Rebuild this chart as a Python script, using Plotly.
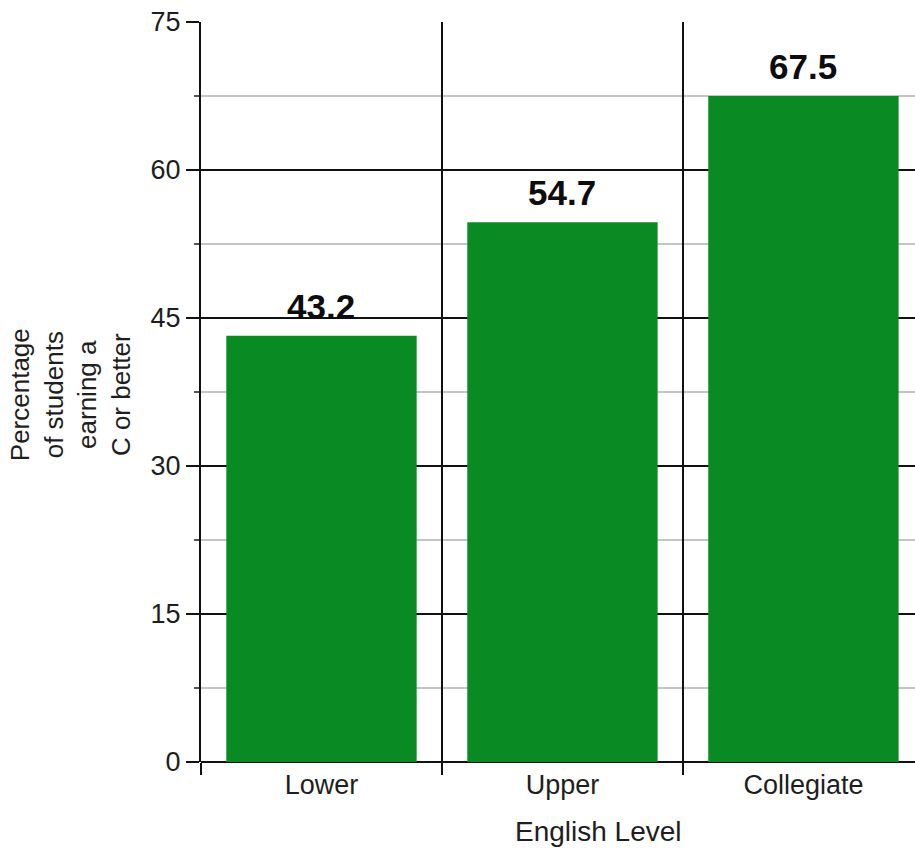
import plotly.graph_objects as go

# Share of students earning a C or better, by English level
levels = ["Lower", "Upper", "Collegiate"]
pct_c_or_better = [43.2, 54.7, 67.5]
y_ticks = [0, 15, 30, 45, 60, 75]

FONT = "Liberation Sans, Arial, sans-serif"
BAR_GREEN = "#0a8a23"
TEXT = "#1e1e1e"

fig = go.Figure(
    go.Bar(
        x=levels,
        y=pct_c_or_better,
        width=0.79,
        marker=dict(color=BAR_GREEN, line=dict(width=0)),
        hoverinfo="x+y",
    )
)

# Value labels above each bar
for lvl, v in zip(levels, pct_c_or_better):
    fig.add_annotation(
        x=lvl, y=v, xref="x", yref="y",
        text=f"<b>{v}</b>", showarrow=False,
        yanchor="bottom", yshift=8,
        font=dict(family=FONT, size=35, color="#0d0d0d"),
    )

# Y-axis title, four centred lines, rotated
fig.add_annotation(
    xref="paper", yref="paper", x=-0.1835, y=0.497,
    xanchor="center", yanchor="middle",
    text="Percentage<br>of students<br>earning a<br>C or better",
    textangle=-90, showarrow=False, align="center",
    font=dict(family=FONT, size=26, color=TEXT),
)

# X-axis title
fig.add_annotation(
    xref="paper", yref="paper", x=(598 - 201) / 714, y=-0.0945,
    xanchor="center", yanchor="middle",
    text="English Level", showarrow=False,
    font=dict(family=FONT, size=28, color=TEXT),
)

fig.update_layout(
    width=915, height=850,
    autosize=False,
    margin=dict(l=201, r=0, t=22, b=88),
    paper_bgcolor="white",
    plot_bgcolor="white",
    showlegend=False,
    font=dict(family=FONT, size=26, color=TEXT),
)

fig.update_xaxes(
    type="category",
    range=[-0.5, 2.463],
    tickson="boundaries",
    ticks="outside", ticklen=12, tickwidth=2, tickcolor="#111",
    ticklabelstandoff=4,
    showgrid=True, gridcolor="#111", gridwidth=2,
    showline=False,
    tickfont=dict(family=FONT, size=27, color=TEXT),
    fixedrange=True,
)

fig.update_yaxes(
    range=[0, 75],
    tickvals=y_ticks,
    ticks="outside", ticklen=13, tickwidth=2, tickcolor="#111",
    showgrid=True, gridcolor="#111", gridwidth=2,
    minor=dict(dtick=7.5, showgrid=True, gridcolor="#c4c4c4", gridwidth=2,
               ticks="outside", ticklen=5, tickwidth=1.5, tickcolor="#555"),
    showline=True, linecolor="#111", linewidth=2,
    zeroline=True, zerolinecolor="#111", zerolinewidth=2,
    tickfont=dict(family=FONT, size=27, color=TEXT),
    fixedrange=True,
)

fig.write_html("out.html")
